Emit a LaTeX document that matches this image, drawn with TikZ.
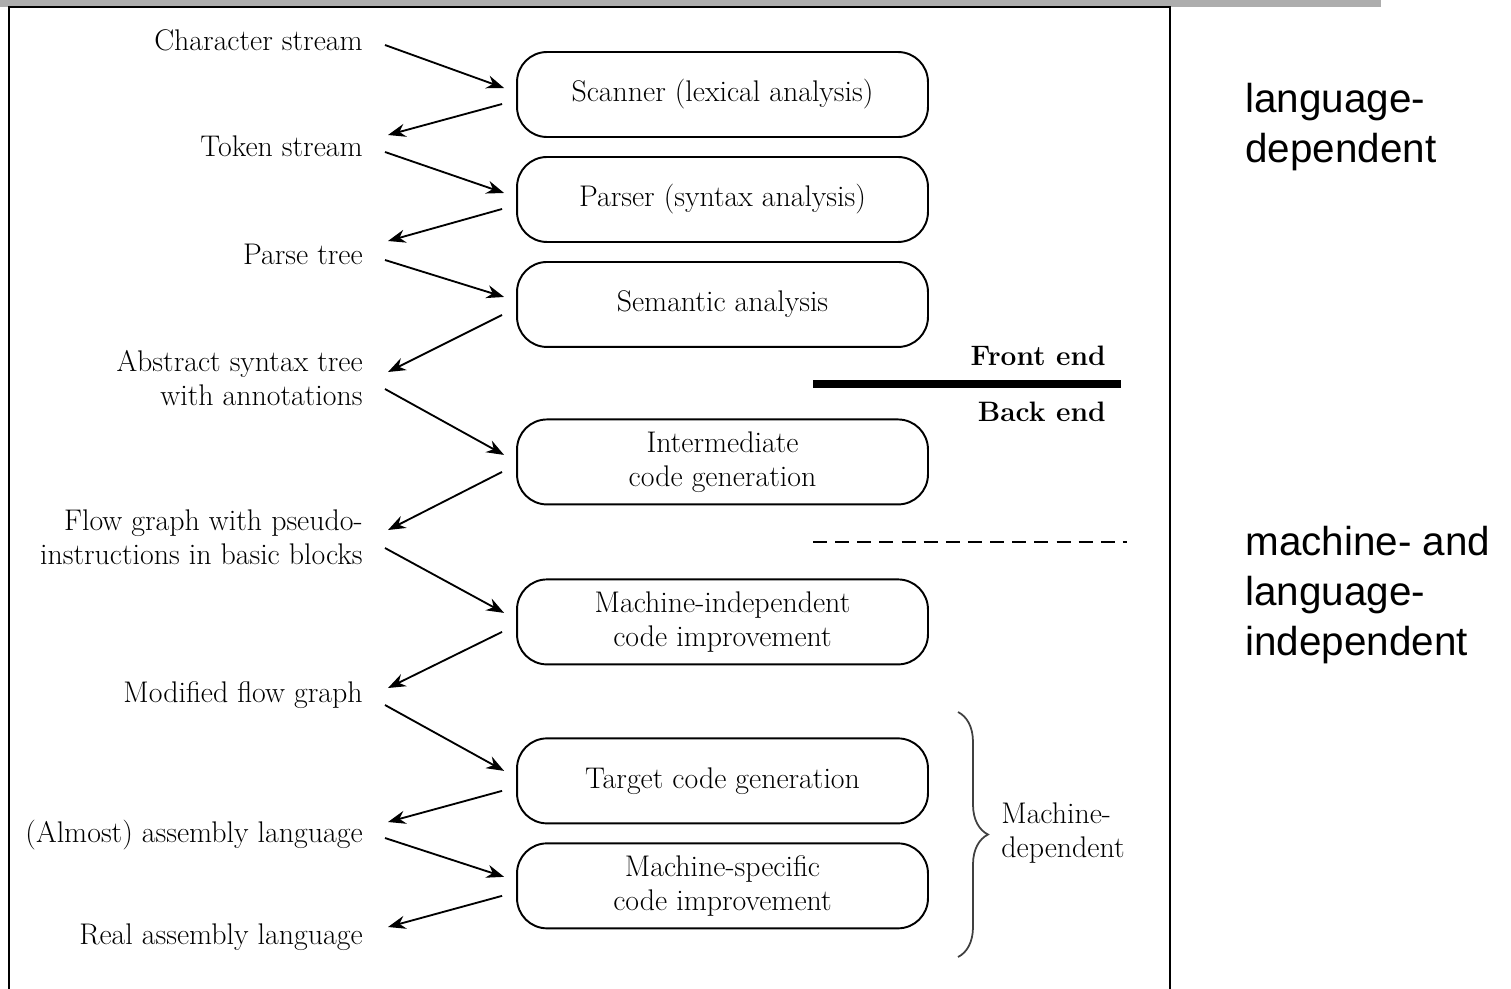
\documentclass[tikz,border=0pt]{standalone}
\usepackage{fontspec}
\newfontfamily\notefont{Liberation Sans}
\usetikzlibrary{shapes.geometric, arrows.meta, calc, decorations.pathreplacing}
\tikzstyle{phase} = [rectangle, rounded corners=0.6cm, minimum width=8.22cm,
  minimum height=1.7cm, text centered, align=center, draw=black, line width=1.1pt]
\tikzstyle{rep} = [anchor=east, align=right, inner sep=0pt]
\tikzstyle{arrow} = [line width=1.05pt,->,>={Stealth[length=10pt,width=7.5pt]}]
\tikzstyle{note} = [anchor=west, align=left, inner sep=0pt,
  font=\notefont\fontsize{23}{28.3}\selectfont]

\begin{document}
\begin{tikzpicture}[x=0.02cm, y=0.02cm, node distance=2.1cm,
  font=\fontsize{17}{19.4}\selectfont]

  \useasboundingbox (0,0) rectangle (1511,-988);
  \fill[black!32] (0,0) rectangle (1381,-7);
  \draw[line width=1.2pt] (9,-7) rectangle (1170,-1010);

  %% Phase boxes
  \node (scan) [phase] at (722.5,-94.5) {Scanner (lexical analysis)};
  \node (pars) [phase, below of=scan] {Parser (syntax analysis)};
  \node (sem) [phase, below of=pars] {Semantic analysis};
  \node (inter) [phase, below of=sem, yshift=-1.05cm] {Intermediate\\code generation};
  \node (mind) [phase, below of=inter, yshift=-1.1cm] {Machine-independent\\code improvement};
  \node (tgen) [phase, below of=mind, yshift=-1.08cm] {Target code generation};
  \node (mspec) [phase, below of=tgen] {Machine-specific\\code improvement};

  %% Intermediate forms
  \node (chr) [rep] at (363,-40) {Character stream};
  \node (tok) [rep] at (363,-146) {Token stream};
  \node (ptree) [rep] at (363,-254) {Parse tree};
  \node (ast) [rep] at (363,-378) {Abstract syntax tree\\with annotations};
  \node (flow) [rep] at (363,-537) {Flow graph with pseudo-\\instructions in basic blocks};
  \node (mflow) [rep] at (363,-695) {Modified flow graph};
  \node (almost) [rep] at (363,-835) {(Almost) assembly language};
  \node (real) [rep] at (363,-937) {Real assembly language};

  \draw [arrow] ($(chr.east)+(22,-5)$) -- ($(scan.west)+(-12,6.5)$);
  \draw [arrow] ($(scan.west)+(-14,-9.5)$) -- ($(tok.east)+(25,11)$);
  \draw [arrow] ($(tok.east)+(22,-6)$) -- ($(pars.west)+(-12,6.5)$);
  \draw [arrow] ($(pars.west)+(-14,-9.5)$) -- ($(ptree.east)+(25,13)$);
  \draw [arrow] ($(ptree.east)+(22,-6)$) -- ($(sem.west)+(-12,7.5)$);
  \draw [arrow] ($(sem.west)+(-14,-10.5)$) -- ($(ast.east)+(25,6)$);
  \draw [arrow] ($(ast.east)+(22,-11)$) -- ($(inter.west)+(-12,7)$);
  \draw [arrow] ($(inter.west)+(-14,-10)$) -- ($(flow.east)+(25,7)$);
  \draw [arrow] ($(flow.east)+(22,-11)$) -- ($(mind.west)+(-12,9)$);
  \draw [arrow] ($(mind.west)+(-14,-10)$) -- ($(mflow.east)+(25,7)$);
  \draw [arrow] ($(mflow.east)+(22,-10)$) -- ($(tgen.west)+(-12,10)$);
  \draw [arrow] ($(tgen.west)+(-14,-10)$) -- ($(almost.east)+(25,13)$);
  \draw [arrow] ($(almost.east)+(22,-3)$) -- ($(mspec.west)+(-12,9)$);
  \draw [arrow] ($(mspec.west)+(-14,-10)$) -- ($(real.east)+(25,10)$);

  %% Front end / back end split
  \node (front) [anchor=east, inner sep=0pt, font=\fontsize{16}{19}\selectfont\bfseries]
    at (1106,-356) {Front end};
  \node (back) [anchor=east, inner sep=0pt, font=\fontsize{16}{19}\selectfont\bfseries]
    at (1106,-412) {Back end};
  \draw [line width=4.6pt] (813,-384) -- (1121,-384);
  \draw [line width=1.4pt, dash pattern=on 8pt off 4.6pt] (813,-542) -- (1127,-542);

  %% Machine-dependent part
  \draw [black!75, line width=1pt, decorate, decoration={brace, amplitude=0.6cm}]
    (958,-712) -- (958,-957);
  \node (mdep) [anchor=west, align=left, inner sep=0pt] at (1001,-833) {Machine-\\dependent};

  %% Notes beside the frame
  \node (ldep) [note] at (1245,-127) {language-\\dependent};
  \node (lind) [note] at (1245,-595) {machine- and\\language-\\independent};

\end{tikzpicture}
\end{document}
